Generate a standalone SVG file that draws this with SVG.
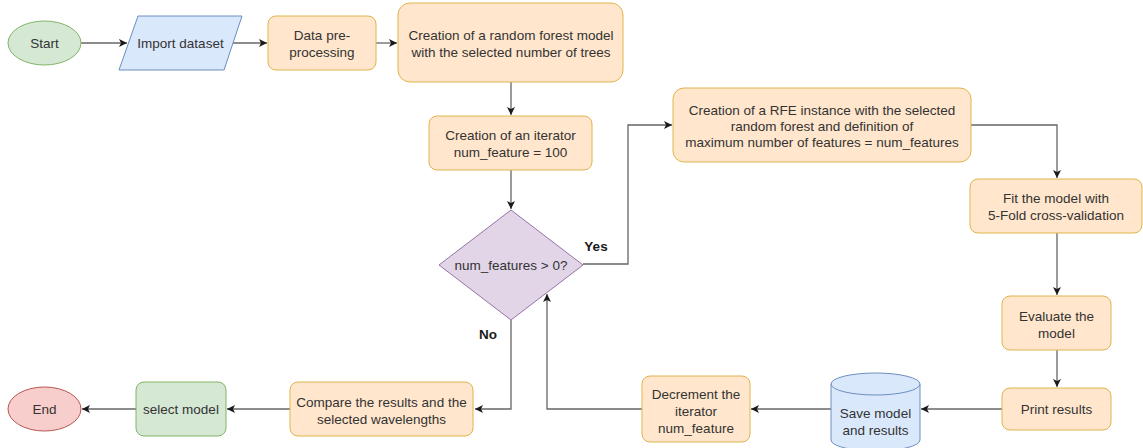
<svg xmlns="http://www.w3.org/2000/svg" width="1143" height="448" viewBox="0 0 1143 448">
  <defs>
    <marker id="arrow" markerUnits="userSpaceOnUse" markerWidth="10" markerHeight="10" refX="8" refY="4" orient="auto">
      <path d="M0,0 L8,4 L0,8 L2,4 Z" fill="#1a1a1a"/>
    </marker>
    <style>
      text { font-family: "Liberation Sans", Arial, sans-serif; font-size: 13.5px; fill: #333333; text-anchor: middle; }
      .bold { font-weight: bold; fill: #1a1a1a; }
      .proc { fill: #ffe6cc; stroke: #e0b44a; stroke-width: 1; }
      .term-g { fill: #d5e8d4; stroke: #82b366; stroke-width: 1; }
      .term-r { fill: #f8cecc; stroke: #b85450; stroke-width: 1; }
      .io { fill: #dae8fc; stroke: #6c8ebf; stroke-width: 1; }
      .dec { fill: #e1d5e7; stroke: #9673a6; stroke-width: 1; }
      .edge { fill: none; stroke: #666666; stroke-width: 1.3; marker-end: url(#arrow); }
    </style>
  </defs>

  <!-- connectors -->
  <g id="connectors">
    <path class="edge" d="M81,43 H127"/>
    <path class="edge" d="M233,43 H267"/>
    <path class="edge" d="M376,43 H397"/>
    <path class="edge" d="M511,82 V115"/>
    <path class="edge" d="M511,170 V209"/>
    <path class="edge" d="M583,264 H628 V125 H672"/>
    <path class="edge" d="M971,125 H1057 V178"/>
    <path class="edge" d="M1057,233 V295"/>
    <path class="edge" d="M1057,350 V387"/>
    <path class="edge" d="M1002,409 H921"/>
    <path class="edge" d="M831,409 H751"/>
    <path class="edge" d="M642,409 H547 V294"/>
    <path class="edge" d="M511,320 V409 H475"/>
    <path class="edge" d="M290,409 H227"/>
    <path class="edge" d="M136,409 H82"/>
    <text class="bold" x="596" y="251">Yes</text>
    <text class="bold" x="488" y="339">No</text>
  </g>

  <g id="start">
    <ellipse class="term-g" cx="44.5" cy="43" rx="36.5" ry="22"/>
    <text x="44.5" y="48">Start</text>
  </g>

  <g id="import-dataset">
    <polygon class="io" points="138,16 242,16 224,70 119,70"/>
    <text x="180.5" y="48">Import dataset</text>
  </g>

  <g id="preprocessing">
    <rect class="proc" x="268" y="16" width="108" height="54" rx="8"/>
    <text x="322" y="40">Data pre-</text>
    <text x="322" y="57">processing</text>
  </g>

  <g id="random-forest">
    <rect class="proc" x="398" y="3" width="225" height="79" rx="12"/>
    <text x="511" y="40">Creation of a random forest model</text>
    <text x="511" y="57">with the selected number of trees</text>
  </g>

  <g id="iterator">
    <rect class="proc" x="429" y="116" width="163" height="54" rx="8"/>
    <text x="510.5" y="140">Creation of an iterator</text>
    <text x="510.5" y="157">num_feature = 100</text>
  </g>

  <g id="condition">
    <polygon class="dec" points="511,210 583,265 511,320 439,265"/>
    <text x="511" y="270">num_features &gt; 0?</text>
  </g>

  <g id="rfe-instance">
    <rect class="proc" x="673" y="88" width="298" height="74" rx="11"/>
    <text x="822" y="115">Creation of a RFE instance with the selected</text>
    <text x="822" y="131">random forest and definition of</text>
    <text x="822" y="147">maximum number of features = num_features</text>
  </g>

  <g id="fit-model">
    <rect class="proc" x="970" y="179" width="172" height="54" rx="8"/>
    <text x="1056" y="203">Fit the model with</text>
    <text x="1056" y="220">5-Fold cross-validation</text>
  </g>

  <g id="evaluate">
    <rect class="proc" x="1002" y="296" width="109" height="54" rx="8"/>
    <text x="1056.5" y="321">Evaluate the</text>
    <text x="1056.5" y="338">model</text>
  </g>

  <g id="print-results">
    <rect class="proc" x="1002" y="388" width="109" height="42" rx="8"/>
    <text x="1056.5" y="414">Print results</text>
  </g>

  <g id="save-results">
    <path class="io" d="M831,384 A44.5,11 0 0 1 920,384 V440 A44.5,11 0 0 1 831,440 Z"/>
    <path class="io" d="M831,384 A44.5,11 0 0 0 920,384" fill="none"/>
    <text x="875.5" y="418">Save model</text>
    <text x="875.5" y="435">and results</text>
  </g>

  <g id="decrement">
    <rect class="proc" x="642" y="376" width="108" height="66" rx="8"/>
    <text x="696" y="399">Decrement the</text>
    <text x="696" y="416">iterator</text>
    <text x="696" y="433">num_feature</text>
  </g>

  <g id="compare">
    <rect class="proc" x="290" y="382" width="183" height="54" rx="8"/>
    <text x="381.5" y="407">Compare the results and the</text>
    <text x="381.5" y="424">selected wavelengths</text>
  </g>

  <g id="select-model">
    <rect class="term-g" x="136" y="382" width="90" height="54" rx="8"/>
    <text x="181" y="414">select model</text>
  </g>

  <g id="end">
    <ellipse class="term-r" cx="44.5" cy="409" rx="36.5" ry="22"/>
    <text x="44.5" y="414">End</text>
  </g>
</svg>
